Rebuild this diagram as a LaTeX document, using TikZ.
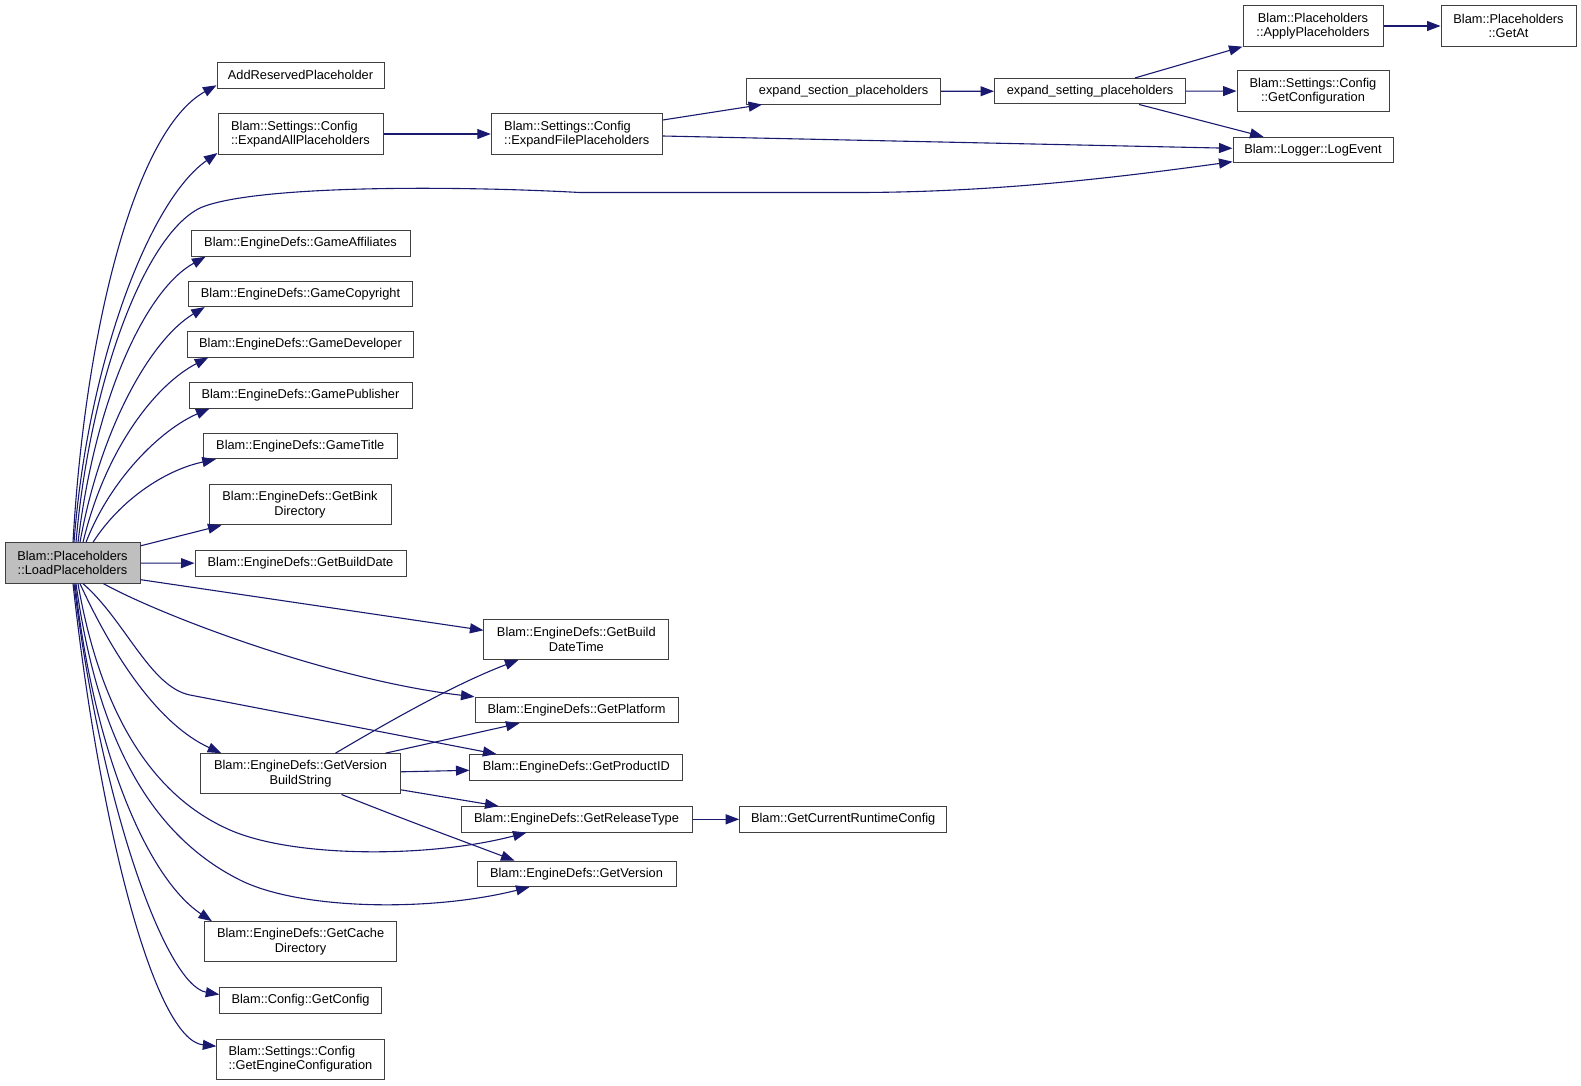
\documentclass[tikz,border=0pt]{standalone}
\usepackage{fontspec}
\setmainfont{Liberation Sans}
\usetikzlibrary{shapes,arrows.meta}
\definecolor{edgeblue}{HTML}{191970}
\definecolor{boxgray}{HTML}{BFBFBF}
\tikzstyle{func} = [draw=black!75, fill=white, rectangle, line width=1pt,
    inner sep=1pt, minimum height=25.5, align=center,
    font=\fontsize{12.8}{14.5}\selectfont]
\tikzstyle{func2} = [func, minimum height=40.3]
\tikzstyle{call} = [draw=edgeblue, line width=1.1pt, -{Triangle[length=13.5pt,width=10pt]}]

\begin{document}
\begin{tikzpicture}[x=1pt,y=-1pt]
\useasboundingbox (0,0) rectangle (1581,1085);
\fill[white] (0,0) rectangle (1581,1085);

% caller
\node[func2, name=load, fill=boxgray, minimum width=135] at (72.5,563) {Blam::Placeholders\\::LoadPlaceholders};

% top branch
\node[func, name=add, minimum width=167] at (300.5,75.3) {AddReservedPlaceholder};
\node[func2, name=expandall, align=left, minimum width=165] at (300.5,134) {Blam::Settings::Config\\::ExpandAllPlaceholders};
\node[func2, name=expandfile, align=left, minimum width=171] at (576.8,134) {Blam::Settings::Config\\::ExpandFilePlaceholders};
\node[func, name=section, minimum width=194] at (843.6,91.3) {expand\_section\_placeholders};
\node[func, name=setting, minimum width=191] at (1090,91.2) {expand\_setting\_placeholders};
\node[func2, name=apply, minimum width=140] at (1313,26) {Blam::Placeholders\\::ApplyPlaceholders};
\node[func2, name=getat, minimum width=135] at (1508.5,26) {Blam::Placeholders\\::GetAt};
\node[func2, name=getconfiguration, minimum width=152] at (1313,91) {Blam::Settings::Config\\::GetConfiguration};
\node[func, name=logevent, minimum width=160] at (1313,150) {Blam::Logger::LogEvent};

% engine defs column
\node[func, name=affiliates, minimum width=219] at (300.5,243.5) {Blam::EngineDefs::GameAffiliates};
\node[func, name=copyright, minimum width=224.5] at (300.5,293.8) {Blam::EngineDefs::GameCopyright};
\node[func, name=developer, minimum width=225.6] at (300.5,344.3) {Blam::EngineDefs::GameDeveloper};
\node[func, name=publisher, minimum width=223] at (300.5,395.3) {Blam::EngineDefs::GamePublisher};
\node[func, name=title, minimum width=194] at (300.3,446) {Blam::EngineDefs::GameTitle};
\node[func2, name=bink, minimum width=182] at (300,504.7) {Blam::EngineDefs::GetBink\\Directory};
\node[func, name=builddate, minimum width=211] at (300.5,563.3) {Blam::EngineDefs::GetBuildDate};
\node[func2, name=vbuild, minimum width=199.6] at (300.5,773.8) {Blam::EngineDefs::GetVersion\\BuildString};
\node[func2, name=cache, minimum width=192.3] at (300.6,941.8) {Blam::EngineDefs::GetCache\\Directory};
\node[func, name=getconfig, minimum width=161.7] at (300.6,1000.5) {Blam::Config::GetConfig};
\node[func2, name=engineconf, align=left, minimum width=167.2] at (300.4,1059.2) {Blam::Settings::Config\\::GetEngineConfiguration};

% version info column
\node[func2, name=builddatetime, minimum width=184.7] at (576.3,639.3) {Blam::EngineDefs::GetBuild\\DateTime};
\node[func, name=platform, minimum width=203] at (576.5,710) {Blam::EngineDefs::GetPlatform};
\node[func, name=productid, minimum width=212.7] at (576.3,767.3) {Blam::EngineDefs::GetProductID};
\node[func, name=releasetype, minimum width=231] at (576.5,819.3) {Blam::EngineDefs::GetReleaseType};
\node[func, name=version, minimum width=199] at (576.5,873.8) {Blam::EngineDefs::GetVersion};
\node[func, name=runtime, minimum width=207] at (843.2,819.3) {Blam::GetCurrentRuntimeConfig};

% calls going up
\draw[call] ([xshift=0.5]load.north) .. controls (85,330) and (135,130) .. ([yshift=-10]add.west);
\draw[call] ([xshift=1.5]load.north) .. controls (88,360) and (150,200) .. ([yshift=-19]expandall.west);
\draw[call] ([xshift=3.5]load.north) .. controls (90,380) and (145,235) .. (200,208)
    .. controls (250,186) and (440,185) .. (580,192.5) -- (860,192.5)
    .. controls (1000,192) and (1120,177) .. ([yshift=-11.7]logevent.west);
\draw[call] ([xshift=5.5]load.north) .. controls (95,400) and (145,290) .. ([xshift=15]affiliates.south west);
\draw[call] ([xshift=7.5]load.north) .. controls (100,430) and (150,340) .. ([xshift=17]copyright.south west);
\draw[call] ([xshift=10.5]load.north) .. controls (105,450) and (155,385) .. ([xshift=21]developer.south west);
\draw[call] ([xshift=13.5]load.north) .. controls (110,480) and (160,430) .. ([xshift=21]publisher.south west);
\draw[call] ([xshift=20.5]load.north) .. controls (120,500) and (165,470) .. ([xshift=13]title.south west);
\draw[call] (load) -- ([xshift=13]bink.south west);
\draw[call] (load) -- (builddate);

% calls going down
\draw[call] ([yshift=4]load.south east) -- ([yshift=9]builddatetime.west);
\draw[call] ([xshift=31]load.south) .. controls (160,615) and (330,680) .. (platform.north west);
\draw[call] ([xshift=10.5]load.south) .. controls (125,620) and (150,687) .. (190,695) -- ([xshift=27]productid.north west);
\draw[call] ([xshift=7.5]load.south) .. controls (115,660) and (160,725) .. ([xshift=21]vbuild.north west);
\draw[call] ([xshift=5.5]load.south) .. controls (100,710) and (150,795) .. (230,830)
    .. controls (294,858) and (430,858) .. ([xshift=66]releasetype.south west);
\draw[call] ([xshift=3.5]load.south) .. controls (95,720) and (140,830) .. (240,880)
    .. controls (300,910) and (430,912) .. ([xshift=53]version.south west);
\draw[call] ([xshift=2.5]load.south) .. controls (95,760) and (150,880) .. ([xshift=8]cache.north west);
\draw[call] ([xshift=1.5]load.south) .. controls (100,800) and (165,985) .. ([yshift=6]getconfig.west);
\draw[call] ([xshift=0.5]load.south) .. controls (100,830) and (155,1040) .. ([yshift=13]engineconf.west);

% version build string
\draw[call] ([xshift=35]vbuild.north) .. controls (400,715) and (460,682) .. ([xshift=35]builddatetime.south west);
\draw[call] ([xshift=85]vbuild.north) -- ([xshift=45]platform.south west);
\draw[call] ([yshift=2]vbuild.east) -- ([yshift=-3]productid.west);
\draw[call] ([yshift=-16]vbuild.east) -- ([xshift=38]releasetype.north west);
\draw[call] ([xshift=41]vbuild.south) .. controls (400,818) and (460,840) .. ([xshift=38]version.north west);
\draw[call] (releasetype) -- (runtime);

% placeholder expansion
\draw[call] (expandall) -- (expandfile);
\draw[call] ([yshift=14]expandfile.east) -- ([xshift=16]section.south west);
\draw[call] ([yshift=-2]expandfile.east) -- ([yshift=1.7]logevent.west);
\draw[call] (section) -- (setting);
\draw[call] ([xshift=45]setting.north) -- (apply.south west);
\draw[call] (setting) -- (getconfiguration);
\draw[call] ([xshift=49]setting.south) -- ([xshift=31]logevent.north west);
\draw[call] (apply) -- (getat);

\end{tikzpicture}
\end{document}
